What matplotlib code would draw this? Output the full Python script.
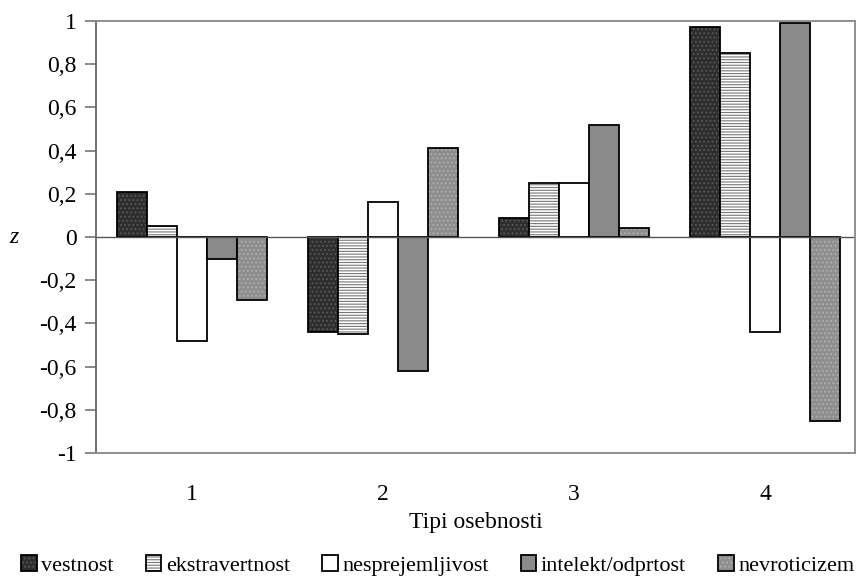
import numpy as np
import matplotlib.pyplot as plt

plt.rcParams["font.family"] = ["Liberation Serif", "DejaVu Serif"]
plt.rcParams["hatch.linewidth"] = 0.8

# ── DATA ──────────────────────────────────────────────────────────────────────
types = [1, 2, 3, 4]
series = ["vestnost", "ekstravertnost", "nesprejemljivost",
          "intelekt/odprtost", "nevroticizem"]
vestnost = [0.21, -0.44, 0.09, 0.97]
ekstravertnost = [0.05, -0.45, 0.25, 0.85]
nesprejemljivost = [-0.48, 0.16, 0.25, -0.44]
intelekt = [-0.10, -0.62, 0.52, 0.99]
nevroticizem = [-0.29, 0.41, 0.04, -0.85]
values = [vestnost, ekstravertnost, nesprejemljivost, intelekt, nevroticizem]
yticks = [-1, -0.8, -0.6, -0.4, -0.2, 0, 0.2, 0.4, 0.6, 0.8, 1]
ytick_labels = ["-1", "-0,8", "-0,6", "-0,4", "-0,2", "0",
                "0,2", "0,4", "0,6", "0,8", "1"]

# face colour, hatch, hatch colour
styles = [
    ("#2e2e2e", "....", "#5a5a5a"),
    ("white", "------", "#777777"),
    ("white", "", "black"),
    ("#8a8a8a", "", "black"),
    ("#8e8e8e", "....", "#b0b0b0"),
]

fig = plt.figure(figsize=(8.58, 5.85), dpi=100)
ax = fig.add_axes([0.112, 0.2256, 0.8845, 0.7385])

x = np.arange(1, len(types) + 1)
width = 0.157
handles = []
for i, (name, vals, (fc, hatch, hc)) in enumerate(zip(series, values, styles)):
    pos = x + (i - 2) * width
    fill = ax.bar(pos, vals, width, color=fc, edgecolor=hc, hatch=hatch,
                  linewidth=0)
    # outline drawn separately so hatch colour can differ from edge
    edge = ax.bar(pos, vals, width, color="none", edgecolor="black",
                  linewidth=1.3)
    handles.append((fill, edge))

ax.axhline(0, color="#555555", linewidth=1)
ax.set_xlim(0.5, 4.47)
ax.set_ylim(-1, 1)
ax.set_yticks(yticks)
ax.set_yticklabels(ytick_labels)
ax.set_xticks(x)
ax.set_xticklabels([str(t) for t in types])
ax.tick_params(axis="y", direction="out", length=8, color="#777777",
               width=1.2, labelsize=17, pad=6)
ax.tick_params(axis="x", length=0, labelsize=17, pad=22)
for s in ax.spines.values():
    s.set_color("#888888")
    s.set_linewidth(1.3)
ax.spines["left"].set_color("#666666")

ax.set_xlabel("Tipi osebnosti", fontsize=17, labelpad=5)
ax.set_ylabel("z", fontsize=17, style="italic", rotation=0, labelpad=18,
              va="center")

fig.legend(handles, series, loc="lower center", bbox_to_anchor=(0.51, -0.018),
           ncol=5, frameon=False, fontsize=16, handlelength=0.7,
           handleheight=0.7, handletextpad=0.2, columnspacing=1.45)

plt.savefig("out.png", dpi=100)
